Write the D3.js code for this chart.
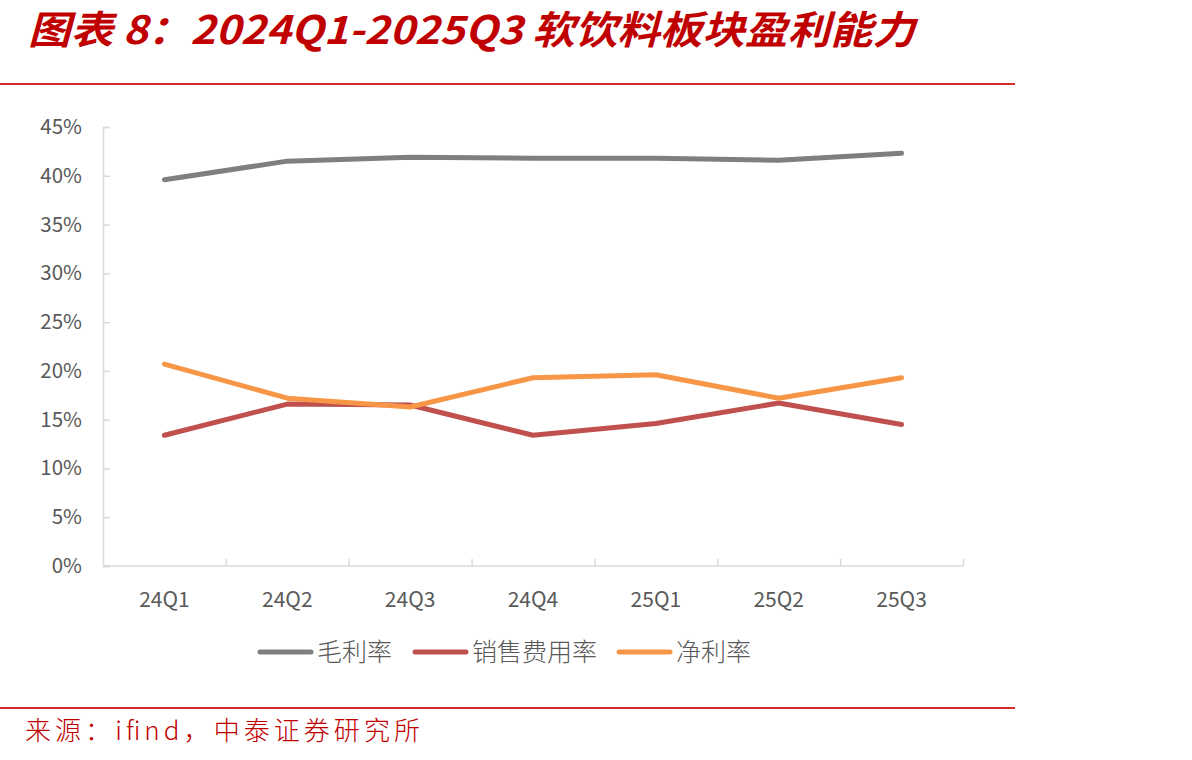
<!DOCTYPE html>
<html>
<head>
<meta charset="utf-8">
<script src="https://cdn.jsdelivr.net/npm/d3@7"></script>
<style>
  body { margin: 0; background: #fff; }
  text { font-family: "Noto Sans CJK SC", "Noto Sans", sans-serif; }
</style>
</head>
<body>
<div id="chart"></div>
<script>
// data
var quarters = ["24Q1", "24Q2", "24Q3", "24Q4", "25Q1", "25Q2", "25Q3"];
var grossMargin = [39.6, 41.5, 41.9, 41.8, 41.8, 41.6, 42.3];
var sellingExpense = [13.4, 16.6, 16.5, 13.4, 14.6, 16.7, 14.5];
var netMargin = [20.7, 17.2, 16.3, 19.3, 19.6, 17.2, 19.3];
var yTicks = [0, 5, 10, 15, 20, 25, 30, 35, 40, 45];
var seriesNames = ["毛利率", "销售费用率", "净利率"];
var seriesColors = ["#7f7f7f", "#c0504d", "#f79646"];

var series = [grossMargin, sellingExpense, netMargin].map(function(vals, i) {
  return { name: seriesNames[i], color: seriesColors[i], values: vals };
});

var svgWidth = 1192, svgHeight = 760;
var chartMargin = { top: 127, left: 103, right: 229, bottom: 194 };
var width = svgWidth - chartMargin.left - chartMargin.right;
var height = svgHeight - chartMargin.top - chartMargin.bottom;

var svg = d3.select("#chart").append("svg")
  .attr("width", svgWidth)
  .attr("height", svgHeight);

// title and frame lines
svg.append("text")
  .attr("x", 28).attr("y", 44)
  .attr("fill", "#c00000")
  .attr("textLength", 887)
  .attr("lengthAdjust", "spacingAndGlyphs")
  .style("font-size", "39px")
  .style("font-weight", "bold")
  .style("font-style", "italic")
  .text("图表 8：2024Q1-2025Q3 软饮料板块盈利能力");

svg.append("line")
  .attr("x1", 0).attr("x2", 1015).attr("y1", 84).attr("y2", 84)
  .attr("stroke", "#d42a2a").attr("stroke-width", 2);

svg.append("line")
  .attr("x1", 0).attr("x2", 1015).attr("y1", 708).attr("y2", 708)
  .attr("stroke", "#d42a2a").attr("stroke-width", 2);

svg.append("text")
  .attr("x", 25).attr("y", 740)
  .attr("fill", "#c00000")
  .attr("textLength", 395)
  .style("font-size", "26px")
  .style("font-weight", "300")
  .text("来源：ifind，中泰证券研究所");

var chartGroup = svg.append("g")
  .attr("transform", `translate(${chartMargin.left}, ${chartMargin.top})`);

var xScale = d3.scaleBand().domain(quarters).range([0, width]);
var yScale = d3.scaleLinear().domain([0, 45]).range([height, 0]);

// y axis: inside ticks
var yAxis = chartGroup.append("g")
  .call(d3.axisRight(yScale).tickValues(yTicks).tickSize(7).tickFormat(""));
yAxis.selectAll("path, line").attr("stroke", "#d9d9d9").attr("stroke-width", 1.5);

chartGroup.selectAll("text.ylab")
  .data(yTicks)
  .enter()
  .append("text")
  .attr("class", "ylab")
  .attr("x", -21)
  .attr("y", d => yScale(d) + 7)
  .attr("text-anchor", "end")
  .attr("fill", "#595959")
  .style("font-size", "20.5px")
  .text(d => d + "%");

// x axis: ticks between categories pointing up
var xAxis = chartGroup.append("g")
  .attr("transform", `translate(0, ${height})`)
  .call(d3.axisTop(d3.scaleLinear().domain([0, quarters.length]).range([0, width]))
    .tickValues(d3.range(1, quarters.length + 1)).tickSize(7).tickFormat(""));
xAxis.select(".domain").remove();
xAxis.selectAll("line").attr("stroke", "#d9d9d9").attr("stroke-width", 1.5);
chartGroup.append("line")
  .attr("x1", 0).attr("x2", width).attr("y1", height).attr("y2", height)
  .attr("stroke", "#d9d9d9").attr("stroke-width", 1.5);

chartGroup.selectAll("text.xlab")
  .data(quarters)
  .enter()
  .append("text")
  .attr("class", "xlab")
  .attr("x", d => xScale(d) + xScale.bandwidth() / 2)
  .attr("y", height + 41)
  .attr("text-anchor", "middle")
  .attr("fill", "#595959")
  .style("font-size", "21px")
  .text(d => d);

// lines
var line = d3.line()
  .x((d, i) => xScale(quarters[i]) + xScale.bandwidth() / 2)
  .y(d => yScale(d));

chartGroup.selectAll("path.series")
  .data(series)
  .enter()
  .append("path")
  .attr("class", "series")
  .attr("d", d => line(d.values))
  .attr("fill", "none")
  .attr("stroke", d => d.color)
  .attr("stroke-width", 5)
  .attr("stroke-linecap", "round")
  .attr("stroke-linejoin", "round");

// legend
var legendX = [258, 413, 617];
var legend = svg.selectAll("g.legend")
  .data(series)
  .enter()
  .append("g")
  .attr("class", "legend")
  .attr("transform", (d, i) => `translate(${legendX[i]}, 652)`);

legend.append("line")
  .attr("x1", 2).attr("x2", 53)
  .attr("stroke", d => d.color)
  .attr("stroke-width", 5)
  .attr("stroke-linecap", "round");

legend.append("text")
  .attr("x", 59).attr("y", 9)
  .attr("fill", "#595959")
  .style("font-size", "25px")
  .style("font-weight", "300")
  .text(d => d.name);
</script>
</body>
</html>
